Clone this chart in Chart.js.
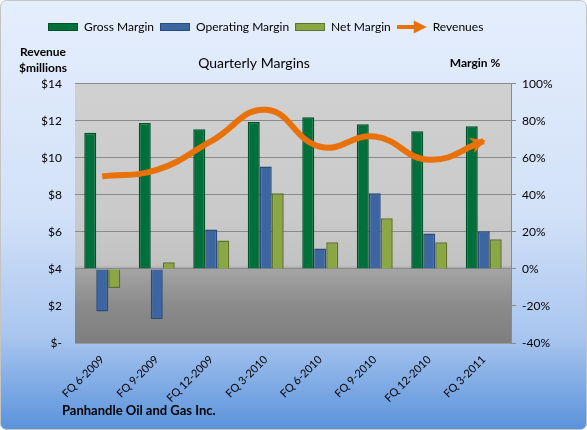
<!DOCTYPE html>
<html>
<head>
<meta charset="utf-8">
<script src="https://cdn.jsdelivr.net/npm/chart.js@4.4.1/dist/chart.umd.min.js"></script>
<style>
    html, body { margin: 0; padding: 0; background: #fff; }
</style>
</head>
<body>
<canvas id="margins-chart" width="587" height="430"></canvas>
<script>
// Quarterly figures
const QUARTERS = ['FQ 6-2009', 'FQ 9-2009', 'FQ 12-2009', 'FQ 3-2010',
                  'FQ 6-2010', 'FQ 9-2010', 'FQ 12-2010', 'FQ 3-2011'];
const GROSS_MARGIN     = [73.5, 78.8, 75.5, 79.3, 82.0, 78.2, 74.4, 77.1];   // %
const OPERATING_MARGIN = [-23.0, -27.0, 21.3, 55.3, 11.0, 40.9, 19.1, 20.4]; // %
const NET_MARGIN       = [-10.3, 3.6, 15.3, 40.9, 14.4, 27.4, 14.4, 16.0];   // %
const REVENUES         = [9.0, 9.35, 10.9, 12.6, 10.6, 11.15, 9.9, 10.9];    // $ millions

const FONT = 'Lato, "Open Sans", sans-serif';
const ORANGE = '#e8710a';

// ── Legend swatches ────────────────────────────────────────────────────────

function legendBox(fill, edge) {
    const c = document.createElement('canvas');
    c.width = 30; c.height = 8;
    const g = c.getContext('2d');
    g.fillStyle = fill;
    g.fillRect(0, 0, 30, 8);
    g.strokeStyle = edge;
    g.strokeRect(0.5, 0.5, 29, 7);
    return c;
}

function legendArrow(color) {
    const c = document.createElement('canvas');
    c.width = 30; c.height = 14;
    const g = c.getContext('2d');
    g.strokeStyle = color;
    g.lineWidth = 4;
    g.beginPath(); g.moveTo(0, 7); g.lineTo(19, 7); g.stroke();
    g.fillStyle = color;
    g.beginPath(); g.moveTo(30, 7); g.lineTo(17, 0.5); g.lineTo(17, 13.5); g.closePath(); g.fill();
    return c;
}

// ── Plugins: backgrounds, arrow head, loose texts ──────────────────────────

const backdrop = {
    id: 'backdrop',
    beforeDraw(chart) {
        const { ctx, width, height, chartArea: a } = chart;
        ctx.save();
        const bg = ctx.createLinearGradient(0, 0, 0, height);
        bg.addColorStop(0, '#e5eefc');
        bg.addColorStop(0.5, '#d2e1f8');
        bg.addColorStop(0.78, '#a9c6ef');
        bg.addColorStop(1, '#5a92db');
        ctx.fillStyle = bg;
        ctx.beginPath();
        ctx.roundRect(0.5, 0.5, width - 1, height - 1, 6);
        ctx.fill();
        ctx.strokeStyle = '#c4c4c4';
        ctx.stroke();

        const plot = ctx.createLinearGradient(0, a.top, 0, a.bottom);
        plot.addColorStop(0, '#d0d0d0');
        plot.addColorStop(0.5, '#cacaca');
        plot.addColorStop(0.70, '#c2c2c2');
        plot.addColorStop(0.715, '#a4a4a4');
        plot.addColorStop(0.86, '#8a8a8a');
        plot.addColorStop(1, '#7e7e7e');
        ctx.fillStyle = plot;
        ctx.fillRect(a.left, a.top, a.right - a.left, a.bottom - a.top);
        ctx.restore();
    },
};

const arrowHead = {
    id: 'arrowHead',
    afterDatasetsDraw(chart) {
        const pts = chart.getDatasetMeta(3).data;
        const end = pts[pts.length - 1];
        const ang = Math.atan2(end.y - end.cp1y, end.x - end.cp1x);
        const { ctx } = chart;
        ctx.save();
        ctx.translate(end.x, end.y);
        ctx.rotate(ang);
        ctx.fillStyle = ORANGE;
        ctx.beginPath();
        ctx.moveTo(2, 0);
        ctx.lineTo(-13, -8);
        ctx.lineTo(-9, 0);
        ctx.lineTo(-13, 8);
        ctx.closePath();
        ctx.fill();
        ctx.restore();
    },
};

const looseText = {
    id: 'looseText',
    afterLayout(chart) {
        // the original's title sits left of centre, over the bars
        chart.titleBlock.left = 0;
        chart.titleBlock.right = 508;
    },
    afterDraw(chart) {
        const { ctx } = chart;
        ctx.save();
        ctx.fillStyle = '#000';
        ctx.textBaseline = 'middle';
        ctx.font = `bold 12px ${FONT}`;
        ctx.textAlign = 'center';
        ctx.fillText('Revenue', 43, 52);
        ctx.fillText('$millions', 43, 68);
        ctx.fillText('Margin %', 475, 63);
        ctx.textAlign = 'left';
        ctx.font = `bold 13px ${FONT}`;
        ctx.fillText('Panhandle Oil and Gas Inc.', 62, 411);
        ctx.restore();
    },
};

// ── Chart ──────────────────────────────────────────────────────────────────

const bar = (label, data, fill, edge) => ({
    type: 'bar',
    label,
    data,
    yAxisID: 'y1',
    backgroundColor: fill,
    borderColor: edge,
    borderWidth: 1.5,
    pointStyle: legendBox(fill, edge),
    categoryPercentage: 0.66,
    barPercentage: 1,
    order: 1,
});

new Chart(document.getElementById('margins-chart'), {
    data: {
        labels: QUARTERS,
        datasets: [
            bar('Gross Margin', GROSS_MARGIN, '#00703a', '#00502a'),
            bar('Operating Margin', OPERATING_MARGIN, '#3c66a2', '#2a4a78'),
            bar('Net Margin', NET_MARGIN, '#8ba744', '#5e722c'),
            {
                type: 'line',
                label: 'Revenues',
                data: REVENUES,
                yAxisID: 'y',
                borderColor: ORANGE,
                borderWidth: 6,
                borderCapStyle: 'butt',
                tension: 0.45,
                pointRadius: 0,
                pointStyle: legendArrow(ORANGE),
                order: 0,
            },
        ],
    },
    options: {
        responsive: false,
        animation: false,
        layout: { padding: { top: 15, left: 42 } },
        plugins: {
            tooltip: { enabled: false },
            legend: {
                align: 'start',
                labels: {
                    usePointStyle: true,
                    pointStyleWidth: 30,
                    boxHeight: 8,
                    padding: 6,
                    color: '#000',
                    font: { family: FONT, size: 12 },
                    sort: (a, b) => a.datasetIndex - b.datasetIndex,
                },
            },
            title: {
                display: true,
                text: 'Quarterly Margins',
                weight: 500,
                color: '#000',
                font: { family: FONT, size: 14, weight: 'normal' },
                padding: { top: 12, bottom: 12 },
            },
        },
        scales: {
            x: {
                grid: { display: false },
                border: { color: '#9a9a9a' },
                ticks: {
                    color: '#000',
                    font: { family: FONT, size: 11 },
                    minRotation: 45,
                    maxRotation: 45,
                    autoSkip: false,
                    padding: 2,
                },
                afterFit: (s) => { s.height = 87; },
            },
            y: {
                position: 'left',
                min: 0,
                max: 14,
                ticks: {
                    stepSize: 2,
                    padding: 13,
                    color: '#000',
                    font: { family: FONT, size: 12 },
                    callback: (v) => (v === 0 ? '$-' : '$' + v),
                },
                grid: { color: '#8a8a8a', drawTicks: false },
                border: { display: false },
                afterFit: (s) => { s.width = 33; },
            },
            y1: {
                position: 'right',
                min: -40,
                max: 100,
                ticks: {
                    stepSize: 20,
                    padding: 6,
                    color: '#000',
                    font: { family: FONT, size: 12 },
                    callback: (v) => v + '%',
                },
                grid: { drawOnChartArea: false, color: '#8a8a8a', tickLength: 5 },
                border: { color: '#8a8a8a' },
                afterFit: (s) => { s.width = 76; },
            },
        },
    },
    plugins: [backdrop, arrowHead, looseText],
});
</script>
</body>
</html>
